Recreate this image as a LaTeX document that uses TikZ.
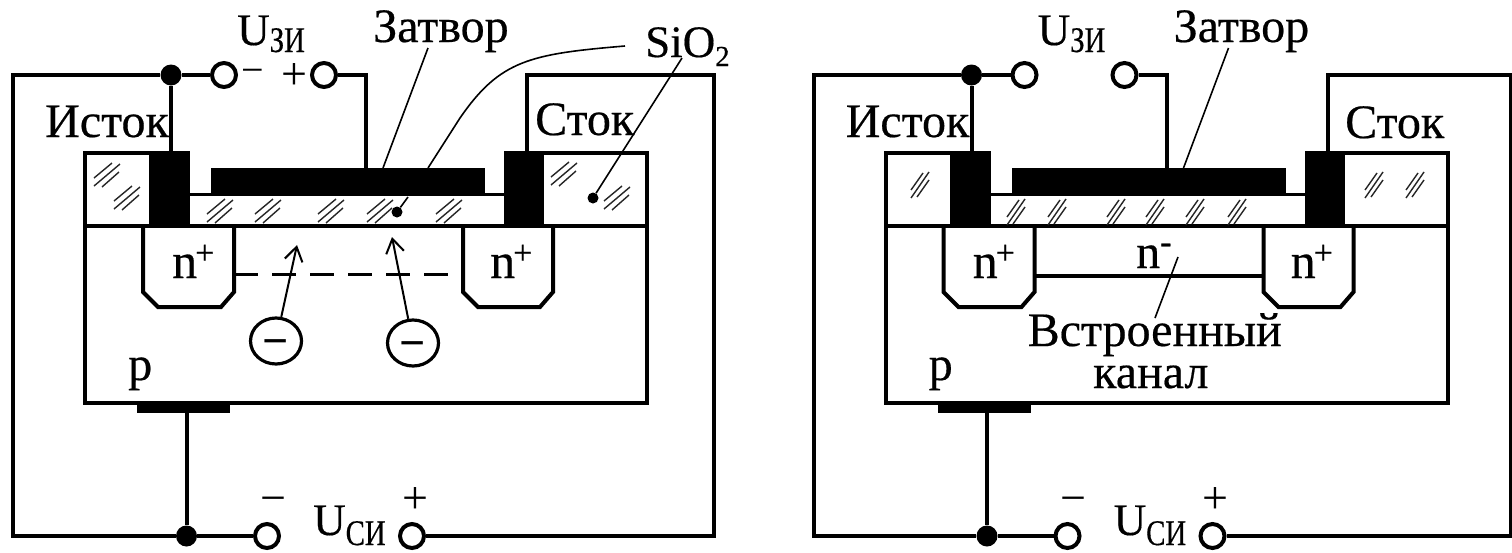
\documentclass[tikz,border=0pt]{standalone}
\usepackage{fontspec}
\setmainfont{Liberation Serif}
\usetikzlibrary{arrows.meta,shapes.geometric}
\newcommand{\heavy}{\addfontfeature{FakeBold=0.4}}
\tikzset{
  wire/.style={draw=black,line width=4pt,line join=miter},
  thinl/.style={draw=black,line width=1.6pt},
  hatchl/.style={draw=black!85,line width=1.4pt},
  termn/.style={circle,draw=black,fill=white,line width=4pt,minimum size=24pt,inner sep=0pt},
  junc/.style={circle,fill=black,minimum size=21pt,inner sep=0pt},
  blk/.style={rectangle,fill=black,inner sep=0pt},
  lbl/.style={anchor=base west,inner sep=0pt,text=black,font=\fontsize{48}{48}\selectfont\heavy},
  lblu/.style={anchor=base west,inner sep=0pt,text=black,font=\fontsize{45}{45}\selectfont\heavy},
  sgn/.style={anchor=center,inner sep=0pt,text=black,font=\fontsize{46}{46}\selectfont},
  elec/.style={ellipse,draw=black,line width=3.2pt,minimum width=51pt,minimum height=46pt,inner sep=0pt,
    font=\fontsize{46}{46}\selectfont\bfseries},
  dotn/.style={circle,fill=black,minimum size=11pt,inner sep=0pt},
}
\newcommand{\subtxt}[2]{\raisebox{#1}{\fontsize{36}{36}\selectfont\heavy\scalebox{0.8}[1]{#2}}}
\newcommand{\midglyph}[1]{\raisebox{-0.33em}[0pt][0pt]{#1}}
\newcommand{\hatchA}[2]{%
  \draw[hatchl] (#1-13,#2+11) -- (#1+13,#2-11)
                (#1-13,#2+3) -- (#1+5,#2-12)
                (#1-5,#2+12) -- (#1+12,#2-3);}
\newcommand{\hatchB}[2]{%
  \draw[hatchl] (#1-9,#2+13) -- (#1+9,#2-13)
                (#1-9,#2+5) -- (#1+3,#2-12)
                (#1-3,#2+12) -- (#1+9,#2-5);}
\newcommand{\nplus}[3]{\node[lbl,font=\fontsize{50}{50}\selectfont\heavy] (#1) at (#2,#3) {n\kern-2pt\raisebox{14pt}{\fontsize{34}{34}\selectfont\heavy +}};}
% #1 name prefix, #2 x of outer right wire, #3 x and #4 y of the Сток label
\newcommand{\mospanel}[4]{%
  % semiconductor and oxide outlines
  \draw[wire] (85,226) rectangle (647,403);
  \draw[wire] (150,153) -- (85,153) -- (85,226);
  \draw[wire] (540,153) -- (647,153) -- (647,226);
  \draw[line width=3pt] (190,194) -- (504,194);
  % contact regions
  \node[blk,minimum width=41pt,minimum height=75pt] (#1src) at (169.5,188.5) {};
  \node[blk,minimum width=40pt,minimum height=75pt] (#1drn) at (524,188.5) {};
  \node[blk,minimum width=274pt,minimum height=28pt] (#1gate) at (348,182) {};
  \node[blk,minimum width=93pt,minimum height=10pt] (#1sub) at (183.5,408) {};
  % n+ wells
  \draw[wire] (143,226) -- (143,292) -- (158,307) -- (221,307) -- (234,292) -- (234,226);
  \draw[wire] (463,226) -- (463,292) -- (478,307) -- (540,307) -- (553,292) -- (553,226);
  % terminals
  \coordinate (#1tl) at (13,75);
  \coordinate (#1bl) at (13,536);
  \coordinate (#1br) at (#2,536);
  \coordinate (#1tr) at (#2,75);
  \coordinate (#1dt) at (527,75);
  \coordinate (#1gt) at (366,75);
  \node[junc] (#1js) at (171,75) {};
  \node[junc] (#1jb) at (186.5,536) {};
  \node[termn] (#1t1) at (224,75) {};
  \node[termn] (#1t2) at (324,75) {};
  \node[termn] (#1t3) at (267,536) {};
  \node[termn] (#1t4) at (412,536) {};
  % wiring
  \draw[wire] (#1t1) -- (#1js) -- (#1tl) -- (#1bl) -- (#1jb) -- (#1t3);
  \draw[wire] (#1js) -- (#1js |- #1src.north);
  \draw[wire] (#1t2) -- (#1gt) -- (#1gt |- #1gate.north);
  \draw[wire] (#1jb) -- (#1jb |- #1sub.south);
  \draw[wire] (#1t4) -- (#1br) -- (#1tr) -- (#1dt) -- (#1dt |- #1drn.north);
  % common labels
  \node[lblu] (#1uzi) at (237,45) {U\subtxt{-7pt}{ЗИ}};
  \node[lbl] (#1zat) at (373,42) {Затвор};
  \node[lbl] (#1ist) at (45,137) {Исток};
  \node[lbl] (#1stk) at (#3,#4) {Сток};
  \node[lbl] (#1p) at (128,380) {p};
  \node[lblu] (#1usi) at (313,535) {U\subtxt{-10pt}{СИ}};
  \node[sgn] (#1mn) at (273,498) {\midglyph{−}};
  \node[sgn] (#1pl) at (415,498) {\midglyph{+}};
  \nplus{#1np1}{172}{278}
  \nplus{#1np2}{490}{278}
  \coordinate (#1z0) at (428,48);
  \coordinate (#1z1) at (383,168);
  \draw[thinl] (#1z0) -- (#1z1);
}
\begin{document}
\begin{tikzpicture}[x=1pt,y=-1pt]
\useasboundingbox (0,0) rectangle (1512,552);
\fill[white] (0,0) rectangle (1512,552);
% ---------- left panel
\mospanel{a}{714}{535}{135}
\hatchA{107}{175}
\hatchA{127}{198}
\hatchA{220}{211}
\hatchA{268}{211}
\hatchA{331}{211}
\hatchA{380}{211}
\hatchA{449}{211}
\hatchA{564}{174}
\hatchA{617}{198}
\draw[line width=3pt,dash pattern=on 24pt off 14pt] (234,274) -- (463,274);
\node[elec] (e1) at (276,341) {\midglyph{−}};
\node[elec] (e2) at (413,343) {\midglyph{−}};
\coordinate (e1t) at (297,245);
\coordinate (e2t) at (392,237);
\draw[thinl,line width=2pt,-{Straight Barb[length=14pt,width=18pt]}] (e1) -- (e1t);
\draw[thinl,line width=2pt,-{Straight Barb[length=14pt,width=18pt]}] (e2) -- (e2t);
\node[sgn,font=\fontsize{40}{40}\selectfont] (am2) at (253,70) {\midglyph{−}};
\node[sgn] (ap2) at (294,74) {\midglyph{+}};
\node[lblu] (sio) at (645,57) {SiO\raisebox{-9pt}{\fontsize{29}{29}\selectfont\heavy 2}};
\node[dotn] (d1) at (397,212) {};
\node[dotn] (d2) at (593,198) {};
\coordinate (s1) at (625,46);
\coordinate (s2) at (428,168);
\coordinate (s3) at (682,58);
\coordinate (s4) at (408,197);
\draw[thinl] (s1) .. controls (530,54) and (500,60) .. (460,118) -- (s2);
\draw[thinl] (s3) -- (d2);
\draw[thinl] (d1) -- (s4);
% ---------- right panel
\begin{scope}[xshift=800.5pt]
\mospanel{b}{710.5}{544.5}{138}
\hatchB{119.5}{185}
\hatchB{573.5}{185}
\hatchB{614.5}{185}
\hatchB{215.5}{212}
\hatchB{256.5}{212}
\hatchB{315.5}{212}
\hatchB{354.5}{212}
\hatchB{394.5}{212}
\hatchB{436.5}{212}
\draw[line width=4pt] (233.5,276) -- (463,276);
\node[lbl] (nm) at (335.5,268) {n\raisebox{15pt}{\fontsize{34}{34}\selectfont -}};
\node[lbl] (vstr) at (227,346) {Встроенный};
\node[lbl] (kan) at (292.5,388) {канал};
\coordinate (c1) at (377.5,257);
\coordinate (c2) at (354.5,318);
\draw[thinl] (c1) -- (c2);
\end{scope}
\end{tikzpicture}
\end{document}
